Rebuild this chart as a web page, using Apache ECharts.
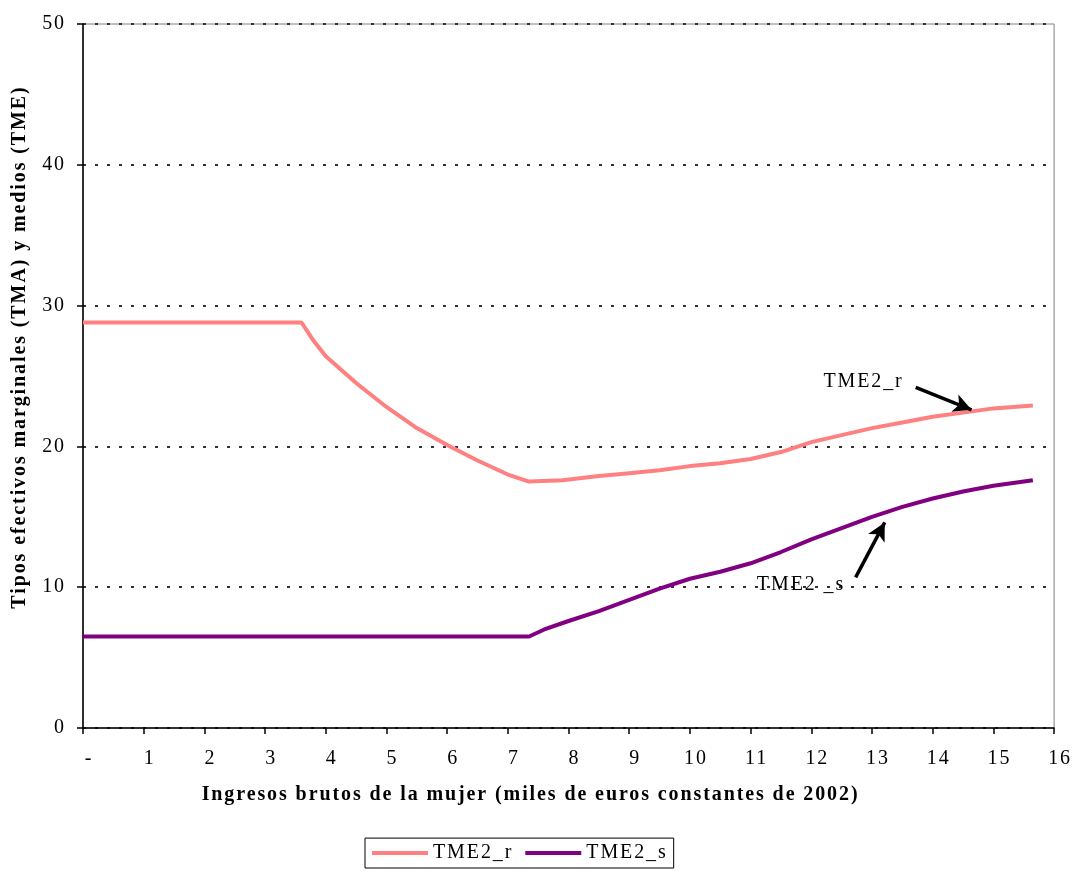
<!DOCTYPE html>
<html>
<head>
<meta charset="utf-8">
<script src="https://cdn.jsdelivr.net/npm/echarts@6/dist/echarts.min.js"></script>
<style>html,body{margin:0;padding:0;background:#fff;}#c{width:1075px;height:872px;}</style>
</head>
<body>
<div id="c"></div>
<script>
// Data
const xTicks = [0,1,2,3,4,5,6,7,8,9,10,11,12,13,14,15,16];
const rX = [0,3.6,3.8,4.0,4.5,5.0,5.5,6.0,6.5,7.0,7.35,7.9,8.5,9.0,9.5,10.0,10.5,11.0,11.5,12.0,12.5,13.0,13.5,14.0,14.5,15.0,15.65];
const rY = [28.8,28.8,27.5,26.4,24.5,22.8,21.3,20.1,19.0,18.0,17.5,17.6,17.9,18.1,18.3,18.6,18.8,19.1,19.6,20.3,20.8,21.3,21.7,22.1,22.4,22.7,22.9];
const sX = [0,7.35,7.6,8.0,8.5,9.0,9.5,10.0,10.5,11.0,11.5,12.0,12.5,13.0,13.5,14.0,14.5,15.0,15.65];
const sY = [6.5,6.5,7.0,7.6,8.3,9.1,9.9,10.6,11.1,11.7,12.5,13.4,14.2,15.0,15.7,16.3,16.8,17.2,17.6];
const seriesNames = ['TME2_r','TME2_s'];
const annoText = ['TME2_r','TME2 _s'];
const annoTextPos = [[12.86,24.6],[11.83,10.16]];
const arrowFrom = [[13.72,24.2],[12.73,10.7]];
const arrowTo = [[14.64,22.6],[13.21,14.6]];

// slight letter spacing as in the original typesetting
(function(){
  const P = CanvasRenderingContext2D.prototype;
  const f = P.fillText, m = P.measureText;
  P.fillText = function(){ try{this.letterSpacing='1.9px';}catch(e){} return f.apply(this, arguments); };
  P.measureText = function(){ try{this.letterSpacing='1.9px';}catch(e){} return m.apply(this, arguments); };
})();

const zip = (a,b)=>a.map((v,i)=>[v,b[i]]);
const serif = '"Liberation Serif","DejaVu Serif",serif';
const FS = 20;

const chart = echarts.init(document.getElementById('c'));
chart.setOption({
  animation:false,
  backgroundColor:'#fff',
  textStyle:{fontFamily:serif},
  grid:{left:83,right:19,top:24,bottom:144,show:true,borderColor:'#808080',borderWidth:1,backgroundColor:'transparent'},
  legend:{
    data:seriesNames,
    bottom:4,left:365,
    orient:'horizontal',
    borderColor:'#000',borderWidth:1,
    padding:[4,6,4,7],
    itemGap:12,
    itemWidth:56,itemHeight:4,
    icon:'rect',
    textStyle:{fontFamily:serif,fontSize:FS,color:'#000'}
  },
  xAxis:{
    type:'value',min:0,max:16,interval:1,
    name:'Ingresos brutos de la mujer (miles de euros constantes de 2002)',
    nameLocation:'middle',nameGap:56,
    nameTextStyle:{fontFamily:serif,fontSize:FS,fontWeight:'bold',color:'#000',padding:[0,76,0,0]},
    axisLine:{lineStyle:{color:'#000',width:1.5}},
    axisTick:{show:true,length:6,lineStyle:{color:'#000',width:1.5}},
    axisLabel:{fontFamily:serif,fontSize:FS,color:'#000',margin:20,padding:[0,0,0,12],
      formatter:v=>v===0?'-':String(v)},
    splitLine:{show:false}
  },
  yAxis:{
    type:'value',min:0,max:50,interval:10,
    name:'Tipos efectivos marginales (TMA) y medios (TME)',
    nameLocation:'middle',nameGap:52,
    nameTextStyle:{fontFamily:serif,fontSize:FS,fontWeight:'bold',color:'#000',padding:[0,0,0,58]},
    axisLine:{show:true,lineStyle:{color:'#000',width:1.5}},
    axisTick:{show:true,length:6,lineStyle:{color:'#000',width:1.5}},
    axisLabel:{fontFamily:serif,fontSize:FS,color:'#000',margin:17},
    splitLine:{show:true,lineStyle:{color:'#333',width:2,type:[3,9]}}
  },
  series:[
    {
      name:seriesNames[0],type:'line',data:zip(rX,rY),
      showSymbol:false,symbol:'none',
      lineStyle:{color:'#FF8080',width:4},itemStyle:{color:'#FF8080'},
      z:3,
      markLine:{
        silent:true,symbol:['none','arrow'],symbolSize:[14,18],
        lineStyle:{color:'#000',width:3.5,type:'solid'},
        label:{show:false},
        data:arrowFrom.map((f,i)=>[{coord:f},{coord:arrowTo[i]}])
      },
      markPoint:{
        silent:true,symbol:'circle',symbolSize:1,
        itemStyle:{color:'rgba(0,0,0,0)'},
        label:{show:true,position:'inside',color:'#000',fontFamily:serif,fontSize:FS,
          formatter:p=>p.name},
        data:annoTextPos.map((p,i)=>({name:annoText[i],coord:p}))
      }
    },
    {
      name:seriesNames[1],type:'line',data:zip(sX,sY),
      showSymbol:false,symbol:'none',
      lineStyle:{color:'#800080',width:4},itemStyle:{color:'#800080'},
      z:3
    }
  ]
});
</script>
</body>
</html>
